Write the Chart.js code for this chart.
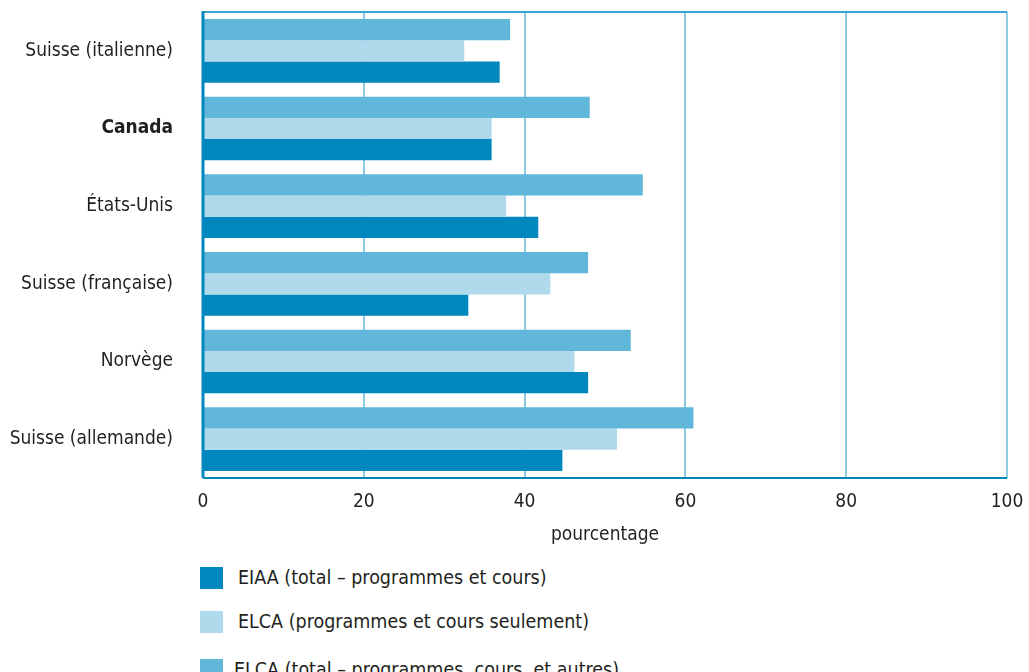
<!DOCTYPE html>
<html>
<head>
<meta charset="utf-8">
<script src="https://cdn.jsdelivr.net/npm/chart.js@4/dist/chart.umd.min.js"></script>
<style>
  html, body { margin: 0; padding: 0; background: #ffffff; }
  body { width: 1029px; height: 672px; position: relative; overflow: hidden;
         font-family: "Liberation Sans Narrow", "DejaVu Sans Condensed", "Arial Narrow", sans-serif; color: #231f20; }
  #wrap { position: absolute; left: 0; top: 0; width: 1029px; height: 550px; }
  .legend { position: absolute; left: 200px; font-size: 19.5px; }
  .legend .item { position: absolute; left: 0; white-space: nowrap; height: 24px; line-height: 24px; }
  .legend .sw { position: absolute; left: 0; top: 1px; width: 23px; height: 22px; }
  .legend .tx { position: absolute; left: 38px; top: 0; }
</style>
</head>
<body>
<div id="wrap"><canvas id="c" width="1029" height="550"></canvas></div>
<div class="legend" id="legend"></div>
<script>
const categories = ['Suisse (italienne)', 'Canada', 'États-Unis', 'Suisse (française)', 'Norvège', 'Suisse (allemande)'];
const eiaaTotal = [36.9, 35.9, 41.7, 33.0, 47.9, 44.7];
const elcaProgCours = [32.5, 35.9, 37.7, 43.2, 46.2, 51.5];
const elcaTotal = [38.2, 48.1, 54.7, 47.9, 53.2, 61.0];
const xTicks = [0, 20, 40, 60, 80, 100];
const seriesNames = ['EIAA (total – programmes et cours)', 'ELCA (programmes et cours seulement)', 'ELCA (total – programmes, cours, et autres)'];
const colors = ['#0088be', '#b0d9eb', '#60b7da'];

const FONT = '"Liberation Sans Narrow", "DejaVu Sans Condensed", "Arial Narrow", sans-serif';
const TEXT = '#231f20';

const topBorder = {
  id: 'topBorder',
  afterDatasetsDraw(chart) {
    const { ctx, chartArea } = chart;
    ctx.save();
    ctx.strokeStyle = '#3aa3cf';
    ctx.lineWidth = 2;
    ctx.beginPath();
    ctx.moveTo(chartArea.left, chartArea.top);
    ctx.lineTo(chartArea.right, chartArea.top);
    ctx.stroke();
    ctx.strokeStyle = '#0088be';
    ctx.lineWidth = 3;
    ctx.beginPath();
    ctx.moveTo(chartArea.left, chartArea.top - 1);
    ctx.lineTo(chartArea.left, chartArea.bottom);
    ctx.stroke();
    ctx.lineWidth = 2;
    ctx.beginPath();
    ctx.moveTo(chartArea.left, chartArea.bottom);
    ctx.lineTo(chartArea.right, chartArea.bottom);
    ctx.stroke();
    ctx.restore();
  }
};

function zeroPad(scale) {
  scale.paddingTop = 0; scale.paddingBottom = 0; scale.paddingLeft = 0; scale.paddingRight = 0;
}

new Chart(document.getElementById('c'), {
  type: 'bar',
  data: {
    labels: categories,
    datasets: [
      { label: seriesNames[2], data: elcaTotal, backgroundColor: colors[2] },
      { label: seriesNames[1], data: elcaProgCours, backgroundColor: colors[1] },
      { label: seriesNames[0], data: eiaaTotal, backgroundColor: colors[0] }
    ]
  },
  options: {
    indexAxis: 'y',
    responsive: false,
    animation: false,
    devicePixelRatio: 1,
    layout: { padding: { top: 12, right: 22, left: 0, bottom: 0 } },
    datasets: { bar: { categoryPercentage: 0.82, barPercentage: 1.0, borderWidth: 0 } },
    plugins: { legend: { display: false }, tooltip: { enabled: false } },
    scales: {
      x: {
        min: 0, max: 100,
        afterBuildTicks(scale) { scale.ticks = xTicks.map(v => ({ value: v })); },
        afterFit(scale) { scale.height = 72; zeroPad(scale); },
        grid: { color: '#8ccbe4', lineWidth: 2, drawTicks: false },
        border: { display: false },
        ticks: { color: TEXT, font: { family: FONT, size: 19 }, padding: 13, maxRotation: 0 },
        title: { display: true, text: 'pourcentage', color: TEXT, font: { family: FONT, size: 19 }, padding: { top: 2, bottom: 4 } }
      },
      y: {
        afterFit(scale) { scale.width = 203; zeroPad(scale); },
        grid: { display: false },
        border: { display: false },
        ticks: {
          color: TEXT, padding: 22,
          font: (ctx) => ({ family: FONT, size: 19, weight: ctx.index === 1 ? 'bold' : 'normal' })
        }
      }
    }
  },
  plugins: [topBorder]
});

const legend = document.getElementById('legend');
const legendTops = [566, 610, 658];
[0, 1, 2].forEach(i => {
  const it = document.createElement('div');
  it.className = 'item';
  it.style.top = legendTops[i] + 'px';
  const sw = document.createElement('span');
  sw.className = 'sw';
  sw.style.background = colors[i];
  const tx = document.createElement('span');
  tx.className = 'tx';
  if (i === 2) tx.style.left = '34px';
  tx.textContent = seriesNames[i];
  it.appendChild(sw); it.appendChild(tx);
  legend.appendChild(it);
});
legend.style.top = '0px';
</script>
</body>
</html>
